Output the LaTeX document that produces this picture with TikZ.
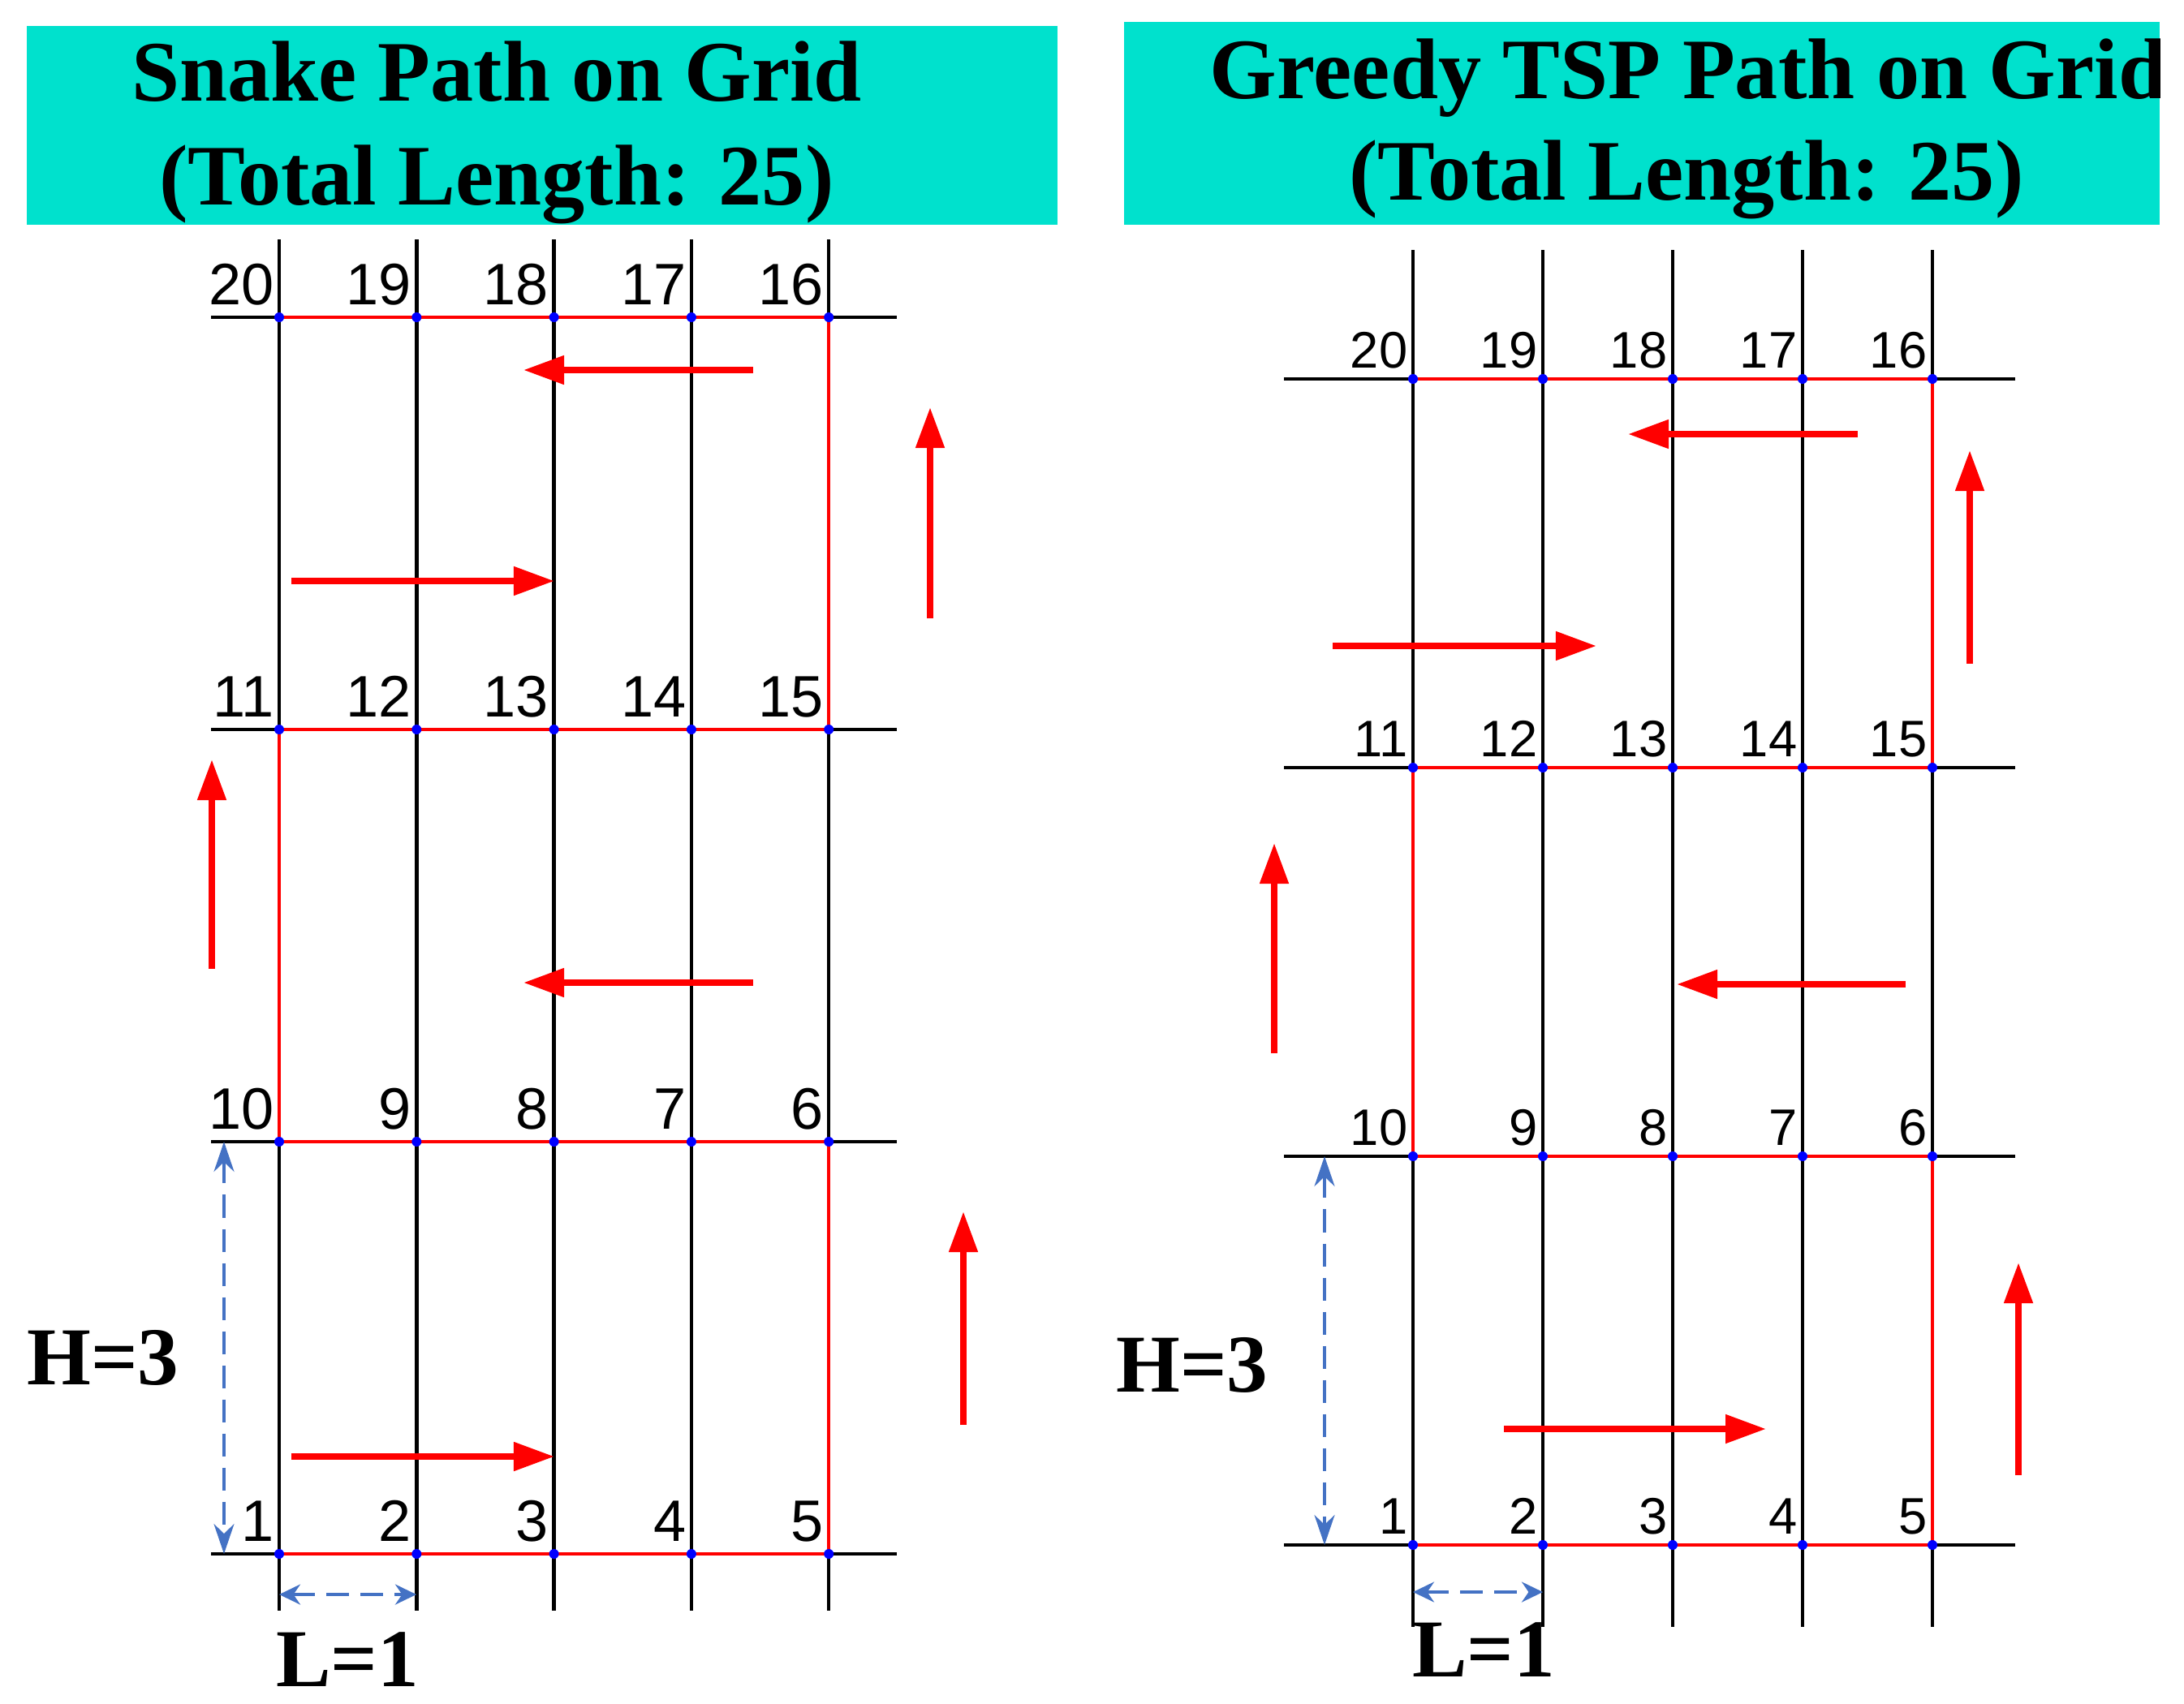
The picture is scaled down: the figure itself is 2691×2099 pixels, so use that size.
\documentclass[tikz,border=0pt]{standalone}
\usepackage{fontspec}
\setmainfont{Liberation Serif}
\setsansfont{Liberation Sans}
\usetikzlibrary{arrows.meta}
\definecolor{tealbox}{RGB}{0,225,205}
\definecolor{dimblue}{RGB}{68,114,196}
\begin{document}
\begin{tikzpicture}[x=0.01cm, y=-0.01cm,
	header/.style={fill=tealbox},
	title/.style={font=\fontsize{30.2}{36}\selectfont\bfseries, inner sep=0pt, anchor=base},
	gridline/.style={line width=0.045cm},
	route/.style={red, line width=0.045cm},
	flow/.style={red, line width=0.08cm, -{Triangle[length=0.5cm, width=0.34cm]}},
	dimline/.style={dimblue, line width=0.035cm, dash pattern=on 0.28cm off 0.14cm},
	hdim/.style={dimline, {Stealth[length=0.37cm, width=0.25cm]}-{Stealth[length=0.37cm, width=0.25cm]}},
	ldim/.style={dimline, {Stealth[length=0.26cm, width=0.25cm]}-{Stealth[length=0.26cm, width=0.25cm]}},
	dimtext/.style={font=\fontsize{28.8}{34}\selectfont\bfseries, inner sep=0pt, anchor=base},
	vertex/.style={circle, fill=blue, inner sep=0pt, minimum size=0.12cm},
	numA/.style={font=\sffamily\fontsize{20.5}{24}\selectfont, inner sep=0pt, anchor=base east, xshift=-0.06cm, yshift=0.16cm},
	numB/.style={font=\sffamily\fontsize{18}{22}\selectfont, inner sep=0pt, anchor=base east, xshift=-0.06cm, yshift=0.14cm}]
	\useasboundingbox (0,0) rectangle (2691,2099);

	\fill[header] (33,32) rectangle (1303,277);
	\node[title] (tA1) at (612,124) {Snake Path on Grid};
	\node[title] (tA2) at (612,252) {(Total Length: 25)};

	\foreach \c in {0,...,4}
		\draw[gridline] (344+169.3*\c,295) -- (344+169.3*\c,1985);
	\foreach \r in {0,...,3}
		\draw[gridline] (260,1915-508*\r) -- (1105,1915-508*\r);
	\foreach \r in {0,...,3}
		\foreach \c in {0,...,4} {
			\pgfmathtruncatemacro{\n}{isodd(\r) ? 5*\r+5-\c : 5*\r+\c+1}
			\coordinate (A\n) at (344+169.3*\c,1915-508*\r);
		}
	\draw[route] (A1) -- (A5) -- (A6) -- (A10) -- (A11) -- (A15) -- (A16) -- (A20);
	\foreach \n in {1,...,20} {
		\node[vertex] (vA\n) at (A\n) {};
		\node[numA] (nA\n) at (A\n) {\n};
	}

	\foreach \a/\b in {{928,456}/{645,456}, {359,716}/{683,716}, {1146,762}/{1146,502}, {261,1194}/{261,936},
		{928,1211}/{645,1211}, {1187,1756}/{1187,1493}, {359,1795}/{683,1795}}
		\draw[flow] (\a) -- (\b);

	\coordinate (hA1) at (276,1407);
	\coordinate (hA0) at (276,1915);
	\coordinate (lA0) at (344,1965);
	\coordinate (lA1) at (513,1965);
	\draw[hdim] (hA1) -- (hA0);
	\draw[ldim] (lA0) -- (lA1);
	\node[dimtext] (hA) at (127,1706) {H=3};
	\node[dimtext] (lA) at (428,2078) {L=1};

	\begin{scope}
		\clip (1385,27) rectangle (2661,277);
		\fill[header] (1385,27) rectangle (2661,277);
		\node[title] (tB1) at (2080,121) {Greedy TSP Path on Grid};
		\node[title] (tB2) at (2078,246) {(Total Length: 25)};
	\end{scope}

	\foreach \c in {0,...,4}
		\draw[gridline] (1741+160*\c,308) -- (1741+160*\c,2005);
	\foreach \r in {0,...,3}
		\draw[gridline] (1582,1904-479*\r) -- (2483,1904-479*\r);
	\foreach \r in {0,...,3}
		\foreach \c in {0,...,4} {
			\pgfmathtruncatemacro{\n}{isodd(\r) ? 5*\r+5-\c : 5*\r+\c+1}
			\coordinate (B\n) at (1741+160*\c,1904-479*\r);
		}
	\draw[route] (B1) -- (B5) -- (B6) -- (B10) -- (B11) -- (B15) -- (B16) -- (B20);
	\foreach \n in {1,...,20} {
		\node[vertex] (vB\n) at (B\n) {};
		\node[numB] (nB\n) at (B\n) {\n};
	}

	\foreach \a/\b in {{2289,535}/{2006,535}, {1642,796}/{1967,796}, {2427,818}/{2427,555}, {1570,1298}/{1570,1039},
		{2348,1213}/{2066,1213}, {1853,1761}/{2176,1761}, {2487,1818}/{2487,1556}}
		\draw[flow] (\a) -- (\b);

	\coordinate (hB1) at (1632,1425);
	\coordinate (hB0) at (1632,1904);
	\coordinate (lB0) at (1741,1962);
	\coordinate (lB1) at (1901,1962);
	\draw[hdim] (hB1) -- (hB0);
	\draw[ldim] (lB0) -- (lB1);
	\node[dimtext] (hB) at (1469,1715) {H=3};
	\node[dimtext] (lB) at (1828,2066) {L=1};
\end{tikzpicture}
\end{document}
